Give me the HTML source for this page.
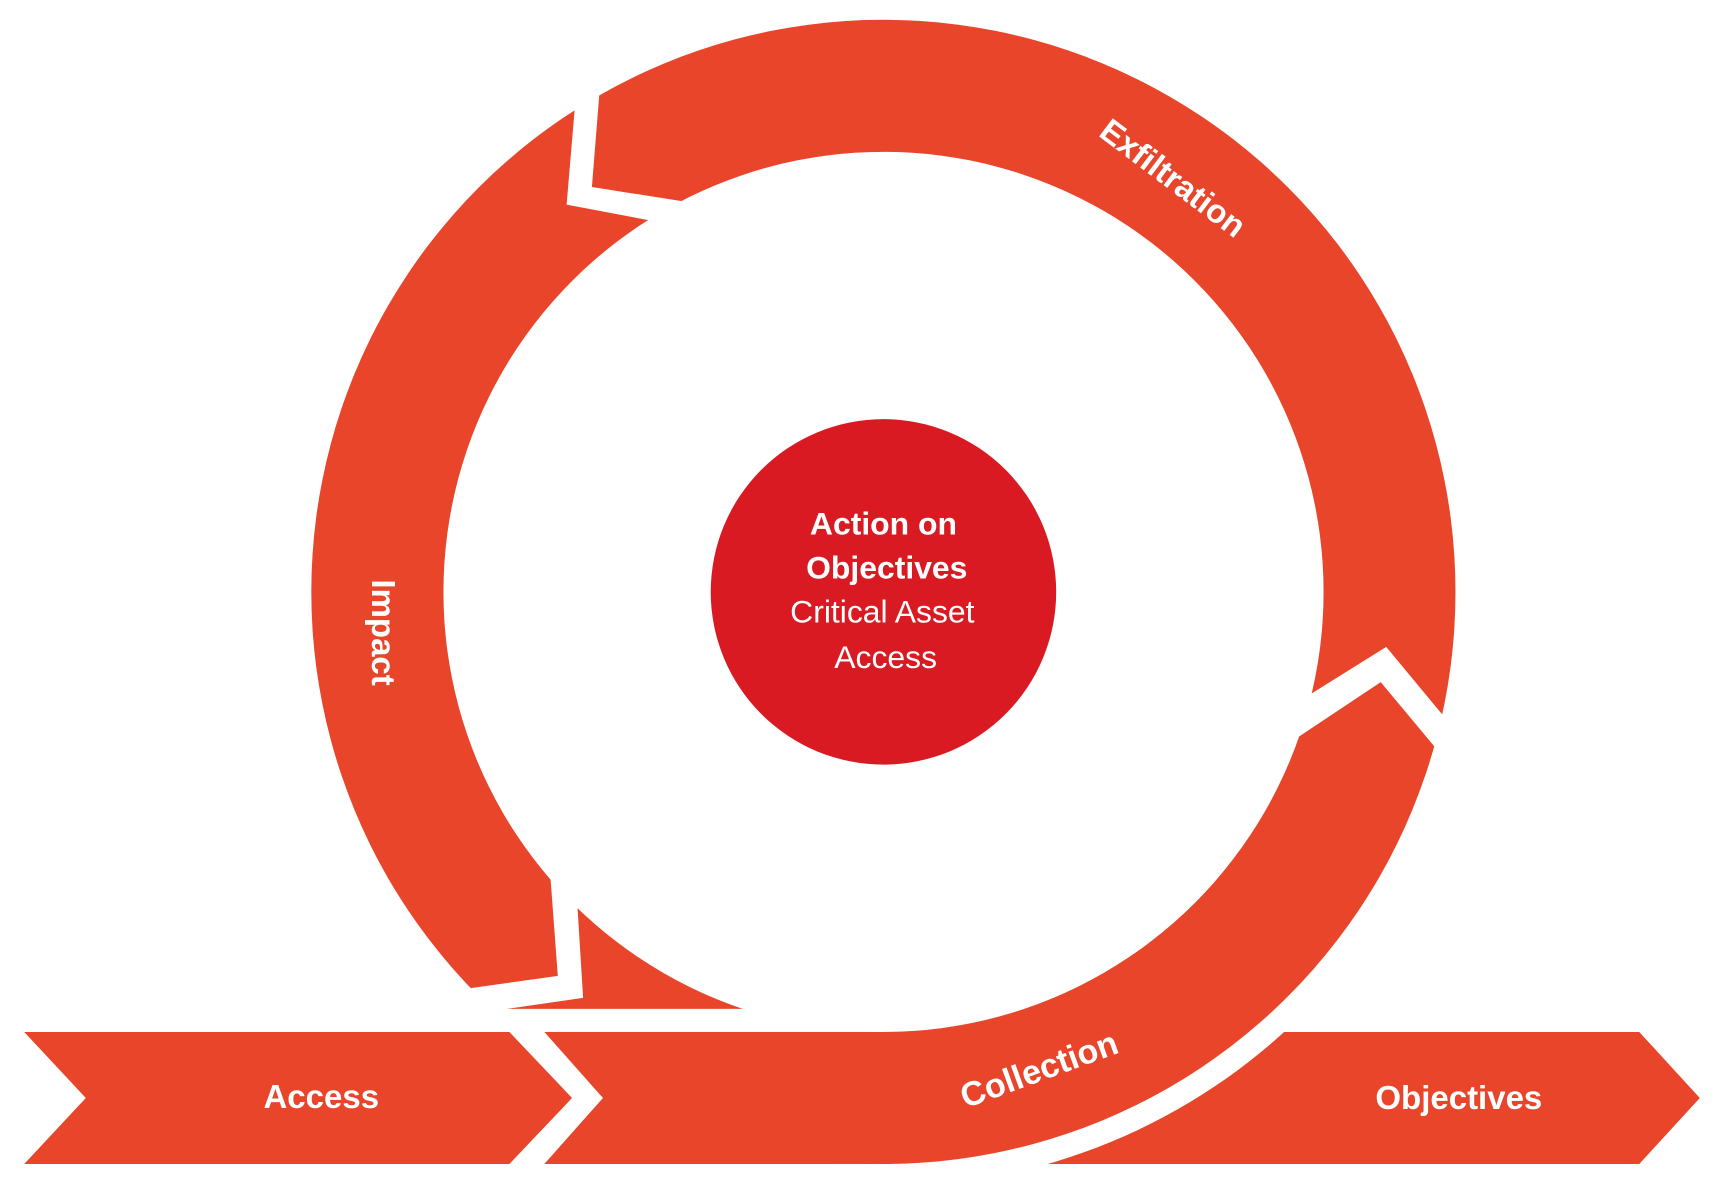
<!DOCTYPE html>
<html><head><meta charset="utf-8"><style>
html,body{margin:0;padding:0;background:#fff;}
svg{display:block;}
text{font-family:"Liberation Sans",sans-serif;fill:#fff;}
</style></head><body>
<svg width="1724" height="1185" viewBox="0 0 1567 1077.1" xmlns="http://www.w3.org/2000/svg">
<!-- Objectives chevron -->
<polygon points="880,938 1490,938 1545,998 1490,1058 880,1058" fill="#E8452A"/>
<circle cx="803" cy="538" r="541" fill="#fff"/>
<!-- Access chevron -->
<polygon points="22,938 463,938 520,998 463,1058 22,1058 78,998" fill="#E8452A"/>
<!-- Middle chevron -->
<polygon points="493,938 810,938 810,1058 493,1058 548,998" fill="#E8452A"/>
<!-- Ring -->
<path fill="#E8452A" fill-rule="evenodd" d="M803,18 A520,520 0 1,1 802.9,18 Z M803,138 A400,400 0 1,0 803.1,138 Z"/>
<!-- gap above banner -->
<rect x="0" y="917" width="803" height="21" fill="#fff"/>
<!-- gap between Access and middle -->
<polygon points="463,936 493,936 548,998 493,1060 463,1060 520,998" fill="#fff"/>
<!-- top-left cut -->
<polygon points="546,70 538,170 640,186 610,204 515,186 524,80" fill="#fff"/>
<!-- bottom-left cut -->
<polygon points="499,780 507,887 415,900 420,923 530,907 524,810" fill="#fff"/>
<!-- right cut -->
<polygon points="1172,643 1260,588 1318,658 1305,680 1255,620 1168,678" fill="#fff"/>
<!-- center circle -->
<circle cx="803" cy="538" r="157" fill="#DA1A22"/>
<text x="803" y="486" font-size="29" font-weight="bold" text-anchor="middle">Action on</text>
<text x="806" y="526" font-size="29" font-weight="bold" text-anchor="middle">Objectives</text>
<text x="802" y="566" font-size="29" text-anchor="middle">Critical Asset</text>
<text x="805" y="607" font-size="29" text-anchor="middle">Access</text>
<!-- labels -->
<text transform="translate(1060,170) rotate(37)" font-size="30" font-weight="bold" text-anchor="middle">Exfiltration</text>
<text transform="translate(338,575) rotate(90)" font-size="30" font-weight="bold" text-anchor="middle">Impact</text>
<text transform="translate(948,982) rotate(-20)" font-size="31" font-weight="bold" text-anchor="middle">Collection</text>
<text x="292" y="1007" font-size="30" font-weight="bold" text-anchor="middle">Access</text>
<text x="1326" y="1008" font-size="30" font-weight="bold" text-anchor="middle">Objectives</text>
</svg>
</body></html>
